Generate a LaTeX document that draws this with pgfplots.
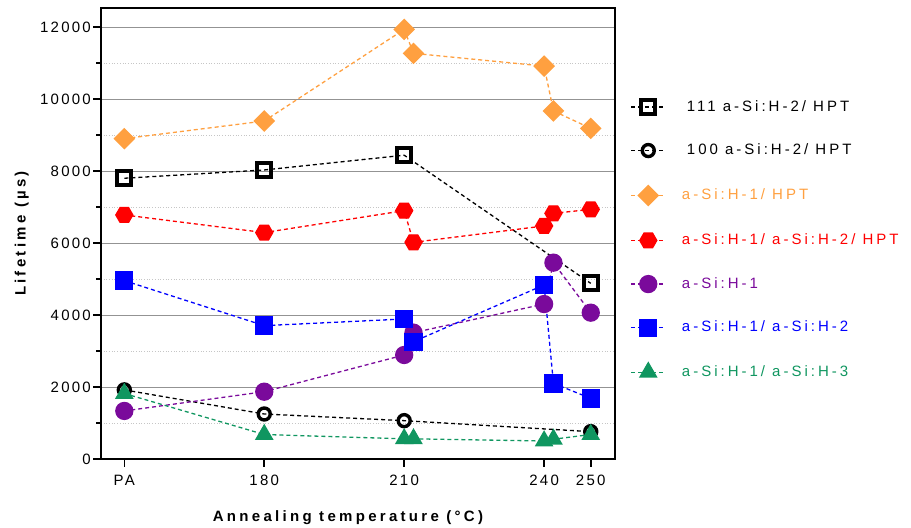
\documentclass[border=0pt]{standalone}
\usepackage{fontspec}
\setmainfont{Liberation Sans}[LetterSpace=15]
\usepackage{pgfplots}
\pgfplotsset{compat=1.18}
\definecolor{cOrange}{RGB}{255,160,64}
\definecolor{cRed}{RGB}{255,0,0}
\definecolor{cPurple}{RGB}{122,10,155}
\definecolor{cBlue}{RGB}{0,0,255}
\definecolor{cGreen}{RGB}{16,150,96}
\pgfdeclareplotmark{hexagon*}{%
  \pgfpathmoveto{\pgfpointpolar{0}{\pgfplotmarksize}}%
  \pgfpathlineto{\pgfpointpolar{60}{\pgfplotmarksize}}%
  \pgfpathlineto{\pgfpointpolar{120}{\pgfplotmarksize}}%
  \pgfpathlineto{\pgfpointpolar{180}{\pgfplotmarksize}}%
  \pgfpathlineto{\pgfpointpolar{240}{\pgfplotmarksize}}%
  \pgfpathlineto{\pgfpointpolar{300}{\pgfplotmarksize}}%
  \pgfpathclose
  \pgfusepathqfillstroke}
\begin{document}
\fontsize{15bp}{18bp}\selectfont
\begin{tikzpicture}
\useasboundingbox (0,0) rectangle (911bp,528bp);
\begin{axis}[
  at={(101bp,69bp)}, anchor=south west,
  scale only axis, width=514bp, height=451bp,
  xmin=145, xmax=255.2, ymin=0, ymax=12530,
  scaled y ticks=false,
  xtick={150,180,210,240,250}, xticklabels={PA,180,210,240,250},
  ytick={0,2000,...,12000}, minor ytick={1000,3000,...,11000},
  ymajorgrids, yminorgrids,
  major grid style={draw=gray!85, line width=0.9bp, solid},
  minor grid style={draw=gray!45, line width=0.7bp, dotted},
  axis line style={line width=2.7bp},
  every tick/.style={black, line width=1.6bp},
  major tick length=8bp, minor tick length=5bp,
  tick align=outside, xtick pos=bottom, ytick pos=left,
  /pgf/number format/assume math mode=true,
  /pgf/number format/set thousands separator={},
  tick label style={font=\fontsize{15bp}{18bp}\selectfont},
  xticklabel style={yshift=-3bp},
  yticklabel style={xshift=3bp},
  xlabel={Annealing temperature (°C)},
  ylabel={Lifetime (µs)},
  xlabel style={font=\fontsize{15bp}{18bp}\selectfont\bfseries\addfontfeatures{LetterSpace=22}, at={(axis description cs:0.4805,-0.131)}, anchor=center},
  ylabel style={font=\fontsize{15bp}{18bp}\selectfont\bfseries\addfontfeatures{LetterSpace=22}, at={(axis description cs:-0.154,0.5)}, anchor=center},
  legend style={at={(axis description cs:1.03,0.80)}, anchor=north west, draw=none, fill=none,
    font=\fontsize{15bp}{18bp}\selectfont\addfontfeatures{LetterSpace=20}, row sep=26.5bp, inner sep=0pt},
  legend cell align=left,
  legend image code/.code={\draw[mark repeat=2,mark phase=2,#1] plot coordinates {(0bp,0bp) (17bp,0bp) (34bp,0bp)};},
  every axis plot/.append style={dash pattern=on 4bp off 3bp, line width=1.3bp},
]
\addplot[black, mark=square, mark size=7bp, every mark/.append style={solid, line width=4bp, fill=white}]
  coordinates {(150,7800) (180,8030) (210,8440) (250,4880)};
\addlegendentry{\hspace{19bp}111 a-Si:H-2/ HPT}
\addplot[black, mark=o, mark size=6bp, every mark/.append style={solid, line width=3.4bp, fill=white}]
  coordinates {(150,1920) (180,1250) (210,1065) (250,760)};
\addlegendentry{\hspace{19bp}100 a-Si:H-2/ HPT}
\addplot[cOrange, mark=square*, mark size=7bp, mark options={solid, rotate=45, fill=cOrange}]
  coordinates {(150,8900) (180,9390) (210,11935) (212,11270) (240,10915) (242,9670) (250,9185)};
\addlegendentry{\hspace{14bp}\textcolor{cOrange}{a-Si:H-1/ HPT}}
\addplot[cRed, mark=hexagon*, mark size=8.5bp, mark options={solid, fill=cRed}]
  coordinates {(150,6780) (180,6290) (210,6900) (212,6020) (240,6475) (242,6825) (250,6935)};
\addlegendentry{\hspace{14bp}\textcolor{cRed}{a-Si:H-1/ a-Si:H-2/ HPT}}
\addplot[cPurple, mark=*, mark size=8.5bp, mark options={solid, fill=cPurple}]
  coordinates {(150,1335) (180,1870) (210,2890) (212,3510) (240,4305) (242,5455) (250,4065)};
\addlegendentry{\hspace{14bp}\textcolor{cPurple}{a-Si:H-1}}
\addplot[cBlue, mark=square*, mark size=8.5bp, mark options={solid, fill=cBlue}]
  coordinates {(150,4955) (180,3705) (210,3890) (212,3260) (240,4835) (242,2100) (250,1685)};
\addlegendentry{\hspace{14bp}\textcolor{cBlue}{a-Si:H-1/ a-Si:H-2}}
\addplot[cGreen, mark=triangle*, mark size=9.5bp, mark options={solid, fill=cGreen}]
  coordinates {(150,1820) (180,680) (210,560) (212,560) (240,500) (242,550) (250,680)};
\addlegendentry{\hspace{14bp}\textcolor{cGreen}{a-Si:H-1/ a-Si:H-3}}
\end{axis}
\end{tikzpicture}
\end{document}
